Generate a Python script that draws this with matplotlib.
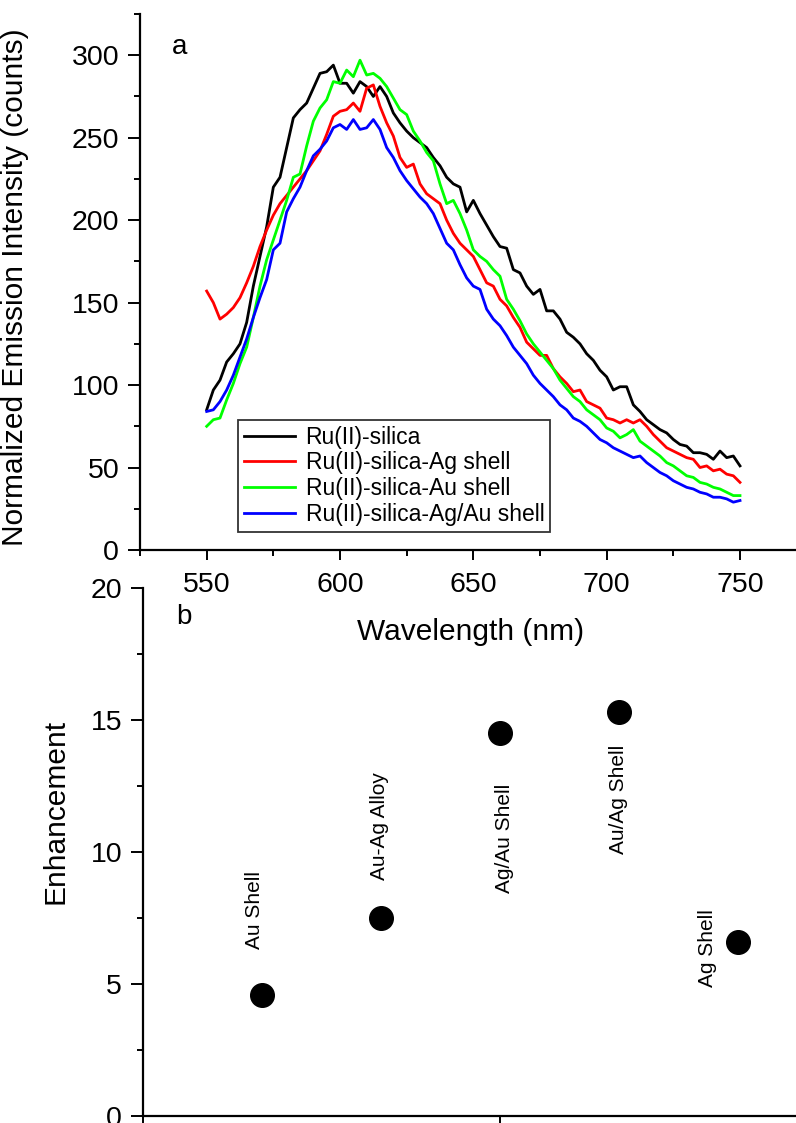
import numpy as np
import matplotlib
matplotlib.use("Agg")
import matplotlib.pyplot as plt
from matplotlib.ticker import MultipleLocator

plt.rcParams['font.family'] = ['Liberation Sans', 'DejaVu Sans']

# emission spectra (a)
wavelength = np.arange(550, 750.1, 2.5)
ru_silica = [85, 97, 103, 114, 119, 125, 138, 160, 178, 196,
             220, 226, 244, 262, 267, 271, 280, 289, 290, 294,
             283, 283, 277, 284, 281, 275, 281, 275, 265, 259,
             254, 250, 247, 244, 238, 233, 226, 222, 220, 205,
             212, 204, 197, 190, 184, 183, 170, 168, 160, 155,
             158, 145, 145, 140, 132, 129, 125, 119, 115, 109,
             105, 97, 99, 99, 88, 84, 79, 76, 73, 71,
             67, 64, 63, 59, 59, 58, 55, 60, 56, 57, 51]
ag_shell = [157, 150, 140, 143, 147, 153, 162, 172, 184, 194,
            203, 210, 215, 220, 225, 230, 236, 242, 252, 263,
            266, 267, 271, 266, 280, 282, 269, 259, 251, 238,
            232, 234, 222, 216, 213, 210, 200, 192, 186, 182,
            178, 170, 162, 160, 152, 148, 141, 135, 126, 122,
            118, 118, 110, 105, 101, 96, 97, 90, 88, 86,
            80, 79, 77, 79, 77, 79, 75, 70, 66, 62,
            60, 58, 56, 55, 50, 51, 48, 49, 46, 45, 41]
au_shell = [75, 79, 80, 91, 101, 113, 123, 141, 160, 176,
            188, 200, 212, 226, 228, 245, 260, 268, 273, 284,
            283, 291, 287, 297, 288, 289, 286, 281, 274, 267,
            264, 254, 248, 241, 236, 222, 210, 212, 204, 194,
            182, 178, 175, 170, 166, 152, 146, 139, 131, 125,
            120, 115, 110, 103, 98, 93, 90, 85, 82, 79,
            74, 72, 68, 70, 73, 66, 63, 60, 57, 53,
            51, 48, 45, 44, 41, 40, 38, 37, 35, 33, 33]
agau_shell = [84, 85, 90, 97, 106, 117, 128, 141, 153, 164,
              182, 186, 205, 213, 220, 230, 239, 243, 248, 256,
              258, 255, 261, 255, 256, 261, 255, 244, 238, 230,
              224, 219, 214, 210, 204, 195, 186, 182, 173, 165,
              160, 158, 146, 140, 136, 130, 123, 118, 113, 106,
              101, 97, 93, 88, 85, 80, 78, 75, 71, 67,
              65, 62, 60, 58, 56, 57, 53, 50, 47, 45,
              42, 40, 38, 37, 35, 34, 32, 32, 31, 29, 30]
series_names = ["Ru(II)-silica", "Ru(II)-silica-Ag shell",
                "Ru(II)-silica-Au shell", "Ru(II)-silica-Ag/Au shell"]
series_colors = ["black", "#ff0000", "#00ff00", "#0000ff"]

# enhancement (b)
sample_pos = [1, 2, 3, 4, 5]
enhancement = [4.6, 7.5, 14.5, 15.3, 6.6]
sample_names = ["Au Shell", "Au-Ag Alloy", "Ag/Au Shell", "Au/Ag Shell", "Ag Shell"]

W, H = 796, 1123
fig = plt.figure(figsize=(W / 100, H / 100), dpi=100)

# ---- panel a ----
ax1 = fig.add_axes([140 / W, 1 - 550 / H, 1 - 140 / W, (550 - 14) / H])
for vals, name, col in zip([ru_silica, ag_shell, au_shell, agau_shell], series_names, series_colors):
    ax1.plot(wavelength, vals, color=col, lw=2.0, label=name)
ax1.set_xlim(525, 771)
ax1.set_ylim(0, 325)
ax1.set_xticks([550, 600, 650, 700, 750])
ax1.set_yticks([0, 50, 100, 150, 200, 250, 300])
ax1.xaxis.set_minor_locator(MultipleLocator(25))
ax1.yaxis.set_minor_locator(MultipleLocator(25))
ax1.set_ylabel("Normalized Emission Intensity (counts)", fontsize=21.5)
ax1.yaxis.set_label_coords(-0.169, 0.49)
ax1.text(180 / W, 1 - 47 / H, "a", transform=fig.transFigure, fontsize=20,
         ha="center", va="center")
fig.text(471 / W, 1 - 632 / H, "Wavelength (nm)", fontsize=21.5, ha="center", va="center")
leg = ax1.legend(loc="upper left", bbox_to_anchor=(238 / W, 1 - 420 / H),
                 bbox_transform=fig.transFigure, borderaxespad=0, fontsize=16.5,
                 fancybox=False, framealpha=1, edgecolor="#333333",
                 handlelength=2.25, labelspacing=0.12, borderpad=0.25, handletextpad=0.45)
leg.get_frame().set_linewidth(1.3)

# ---- panel b ----
ax2 = fig.add_axes([143 / W, 1 - 1116 / H, 1 - 143 / W, (1116 - 588) / H])
ax2.plot(sample_pos, enhancement, "o", color="black", ms=17)
ax2.set_xlim(0, 5.49)
ax2.set_ylim(0, 20)
ax2.set_xticks([0, 3])
ax2.set_xticklabels([])
ax2.set_yticks([0, 5, 10, 15, 20])
ax2.yaxis.set_minor_locator(MultipleLocator(2.5))
ax2.set_ylabel("Enhancement", fontsize=21.5)
ax2.yaxis.set_label_coords(-0.113, 0.576)
ax2.text(184 / W, 1 - 617 / H, "b", transform=fig.transFigure, fontsize=20,
         ha="center", va="center")
label_xy = [(0.94, 7.8), (1.99, 11.0), (3.04, 10.5), (4.0, 12.0), (4.75, 6.35)]
for (lx, ly), name in zip(label_xy, sample_names):
    ax2.text(lx, ly, name, rotation=90, fontsize=15, ha="center", va="center")

for ax in (ax1, ax2):
    ax.spines["top"].set_visible(False)
    ax.spines["right"].set_visible(False)
    ax.spines["left"].set_linewidth(1.6)
    ax.spines["bottom"].set_linewidth(1.6)
    ax.tick_params(which="major", length=7, width=1.4, labelsize=20.5, pad=6)
    ax.tick_params(which="minor", length=4, width=1.4)
    ax.tick_params(axis="x", which="both", direction="out")
    ax.patch.set_alpha(0)
ax1.tick_params(axis="x", which="major", pad=9)
ax1.tick_params(axis="y", which="major", length=9)
ax2.tick_params(axis="y", which="major", length=9)

fig.savefig("out.png", dpi=100)
